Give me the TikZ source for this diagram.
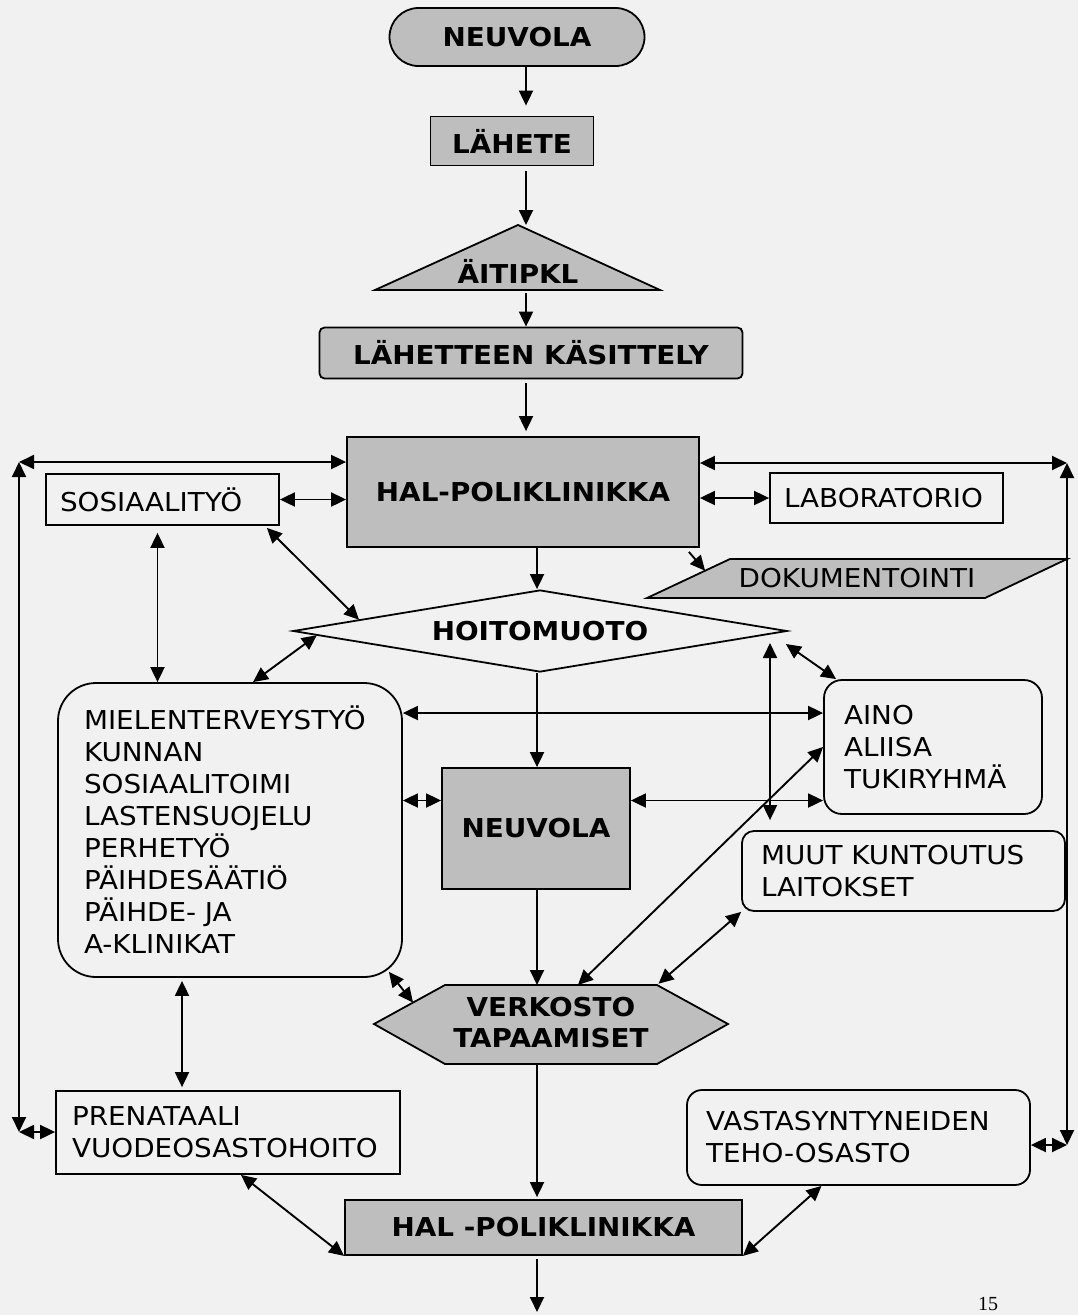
\documentclass[tikz,border=0pt]{standalone}
\usepackage{fontspec}
\setmainfont{DejaVu Sans}[FakeStretch=1.07]
\newfontfamily\pagefont{Liberation Serif}
\usetikzlibrary{shapes.geometric, arrows.meta, calc}
\definecolor{boxgrey}{RGB}{190,190,190}
\definecolor{paper}{RGB}{241,241,241}
\newcommand{\boxboldfont}{\fontsize{26}{31}\selectfont\bfseries}
\newcommand{\boxplainfont}{\fontsize{26}{32}\selectfont}
\tikzstyle{greybox} = [rectangle, draw=black, fill=boxgrey,
                       text centered, font=\boxboldfont,
                       line width=1.8pt]
\tikzstyle{whitebox} = [rectangle, draw=black, align=left,
                        font=\boxplainfont, line width=1.8pt]
\tikzstyle{arrow} = [line width=1.9pt,->,>={Triangle[length=15pt,width=14pt]}]
\tikzstyle{dblarrow} = [line width=1.9pt,<->,>={Triangle[length=15pt,width=14pt]}]

\begin{document}
\begin{tikzpicture}[x=1pt, y=-1pt]
        
        \fill [paper] (0,0) rectangle (1078,1315);
        \useasboundingbox (0,0) rectangle (1078,1315);
        
        \coordinate (AxisTop) at (526,0);
        \coordinate (AxisMid) at (537,0);
        \coordinate (MuutAxis) at (770,0);
        \coordinate (LeftTop) at (19,462);
        \coordinate (LeftBot) at (19,1132);
        \coordinate (RightTop) at (1067,463);
        \coordinate (RightBot) at (1067,1145);
        \coordinate (OutEnd) at (537,1312);
        
        
        \node (Neuvola1) [greybox, rounded corners=29pt, minimum width=255pt, minimum height=58pt, xshift=517pt, yshift=-37pt] {NEUVOLA};
        
        \node (Lahete) [greybox, minimum width=163pt, minimum height=49pt, xshift=512pt, yshift=-141pt] {LÄHETE};
        
        \coordinate (AitipklTop) at (518,225);
        \coordinate (AitipklL) at (375,290);
        \coordinate (AitipklR) at (660,290);
        \draw [line width=1.8pt, fill=boxgrey] (AitipklL) -- (AitipklTop) -- (AitipklR) -- cycle;
        \node (Aitipkl) [font=\boxboldfont, xshift=518pt, yshift=-271pt] {ÄITIPKL};
        
        \node (Kasittely) [greybox, rounded corners=5pt, minimum width=423pt, minimum height=51pt, xshift=531pt, yshift=-353pt] {LÄHETTEEN KÄSITTELY};
        
        \node (HalPoli1) [greybox, minimum width=352pt, minimum height=110pt, xshift=523pt, yshift=-492pt] {HAL-POLIKLINIKKA};
        
        \node (Sosiaali) [whitebox, text width=205pt, inner xsep=14pt, minimum height=51pt, xshift=162.5pt, yshift=-499.5pt] {SOSIAALITYÖ};
        
        \node (Laboratorio) [whitebox, text width=205pt, inner xsep=14pt, minimum height=50pt, xshift=886.5pt, yshift=-498pt] {LABORATORIO};
        
        \coordinate (DokTL) at (730,559);
        \coordinate (DokTR) at (1067,559);
        \coordinate (DokBR) at (985,598);
        \coordinate (DokBL) at (647,598);
        \draw [line width=1.8pt, fill=boxgrey] (DokTL) -- (DokTR) -- (DokBR) -- (DokBL) -- cycle;
        \node (Dokumentointi) [font=\boxplainfont, xshift=857pt, yshift=-578pt] {DOKUMENTOINTI};
        
        \node (Hoitomuoto) [diamond, draw=black, line width=1.8pt, shape aspect=6, inner sep=0pt, minimum width=494pt, minimum height=82pt, font=\boxboldfont, xshift=540pt, yshift=-631pt] {HOITOMUOTO};
        
        \node (Mielen) [whitebox, rounded corners=38pt, text width=292pt, inner xsep=26pt, minimum height=294pt, xshift=230pt, yshift=-830pt] {MIELENTERVEYSTYÖ\\KUNNAN\\SOSIAALITOIMI\\LASTENSUOJELU\\PERHETYÖ\\PÄIHDESÄÄTIÖ\\PÄIHDE- JA\\A-KLINIKAT};
        
        \node (Neuvola2) [greybox, minimum width=188pt, minimum height=121pt, xshift=536pt, yshift=-828.5pt] {NEUVOLA};
        
        \node (Aino) [whitebox, rounded corners=18pt, text width=178pt, inner xsep=20pt, minimum height=134pt, xshift=933pt, yshift=-747pt] {AINO\\ALIISA\\TUKIRYHMÄ};
        
        \node (Muut) [whitebox, rounded corners=12pt, text width=285pt, inner xsep=19pt, minimum height=80pt, xshift=903.5pt, yshift=-871pt] {MUUT KUNTOUTUS\\LAITOKSET};
        
        \coordinate (VerkL) at (374,1024);
        \coordinate (VerkTL) at (445,985);
        \coordinate (VerkTR) at (657,985);
        \coordinate (VerkR) at (728,1024);
        \coordinate (VerkBR) at (657,1064);
        \coordinate (VerkBL) at (445,1064);
        \draw [line width=1.8pt, fill=boxgrey] (VerkL) -- (VerkTL) -- (VerkTR) -- (VerkR) -- (VerkBR) -- (VerkBL) -- cycle;
        \node (Verkosto) [font=\boxboldfont, align=center, xshift=551pt, yshift=-1023pt] {VERKOSTO\\TAPAAMISET};
        
        \node (Prenataali) [whitebox, text width=312pt, inner xsep=16pt, minimum height=83pt, xshift=228pt, yshift=-1132.5pt] {PRENATAALI\\VUODEOSASTOHOITO};
        
        \node (Vastasynt) [whitebox, rounded corners=15pt, text width=305pt, inner xsep=19pt, minimum height=95pt, xshift=858.5pt, yshift=-1137.5pt] {VASTASYNTYNEIDEN\\TEHO-OSASTO};
        
        \node (HalPoli2) [greybox, minimum width=397pt, minimum height=55pt, xshift=543.5pt, yshift=-1227.5pt] {HAL -POLIKLINIKKA};
        
        \node (PageNum) [font=\pagefont\fontsize{20}{22}\selectfont, xshift=988pt, yshift=-1304pt] {15};
        
        
        \draw [arrow, shorten >=10pt] (Neuvola1.south -| AxisTop) -- (Lahete.north -| AxisTop); %neuvola
        \draw [arrow, shorten <=5pt] (Lahete.south -| AxisTop) -- (AitipklTop -| AxisTop); %lahete
        \draw [arrow, shorten <=3pt] (AitipklL -| AxisTop) -- (Kasittely.north -| AxisTop); %aitipkl
        \draw [arrow, shorten <=4pt, shorten >=5pt] (Kasittely.south -| AxisTop) -- (HalPoli1.north -| AxisTop); %kasittely
        \draw [arrow] (HalPoli1.south -| AxisMid) -- (Hoitomuoto.north -| AxisMid); %hal-poliklinikka
        \draw [arrow] (Hoitomuoto.south -| AxisMid) -- (Neuvola2.north -| AxisMid); %hoitomuoto
        \draw [arrow] (Neuvola2.south -| AxisMid) -- (VerkTL -| AxisMid); %neuvola
        \draw [arrow, shorten >=2pt] (VerkBL -| AxisMid) -- (HalPoli2.north -| AxisMid); %verkosto
        \draw [arrow, shorten <=3pt] (HalPoli2.south -| AxisMid) -- (OutEnd); %hal -poliklinikka
        
        \draw [dblarrow] (LeftTop -| HalPoli1.west) -- (LeftTop); %left loop
        \draw [dblarrow] (LeftTop) -- (LeftBot);
        \draw [dblarrow] (LeftBot) -- (LeftBot -| Prenataali.west);
        
        \draw [dblarrow] (RightTop -| HalPoli1.east) -- (RightTop); %right loop
        \draw [dblarrow] (RightTop) -- (RightBot);
        \draw [dblarrow] (RightBot -| Vastasynt.east) -- (RightBot);
        
        \draw [dblarrow] (Sosiaali.east) -- (Sosiaali.east -| HalPoli1.west); %sosiaalityo
        \draw [dblarrow] (Laboratorio.west) -- (Laboratorio.west -| HalPoli1.east); %laboratorio
        \draw [arrow] ([xshift=-11pt,yshift=-4pt]HalPoli1.south east) -- ($(DokBL)!0.7!(DokTL)$); %dokumentointi
        \draw [dblarrow, shorten <=7pt] ([xshift=-5pt]Sosiaali.south) -- ([xshift=-5pt]Sosiaali.south |- Mielen.north);
        \draw [dblarrow] ([xshift=-13pt,yshift=-2pt]Sosiaali.south east) -- ($(Hoitomuoto.west)!0.27!(Hoitomuoto.north)$);
        \draw [dblarrow] ($(Hoitomuoto.west)!0.1!(Hoitomuoto.south)$) -- ([xshift=23pt]Mielen.north);
        
        \draw [dblarrow] ([yshift=34pt]Aino.west) -- ([yshift=34pt]Aino.west -| Mielen.east); %mielenterveys
        \draw [dblarrow] ([yshift=28pt]Neuvola2.west) -- ([yshift=28pt]Neuvola2.west -| Mielen.east);
        \draw [dblarrow] ([yshift=28pt]Neuvola2.east) -- ([yshift=28pt]Neuvola2.east -| Aino.west);
        \draw [dblarrow, shorten <=12pt, shorten >=10pt] (Hoitomuoto.east -| MuutAxis) -- (Muut.north -| MuutAxis); %muut
        \draw [dblarrow] ([xshift=-2pt,yshift=-13pt]Hoitomuoto.east) -- ([xshift=13pt]Aino.north west); %aino
        \draw [dblarrow] (Aino.west) -- ($(VerkTL)!0.627!(VerkTR)$);
        \draw [dblarrow, shorten >=2pt] (Muut.south west) -- (VerkTR);
        \draw [dblarrow] ([xshift=-14pt,yshift=6pt]Mielen.south east) -- ($(VerkL)!0.55!(VerkTL)$); %verkosto
        \draw [dblarrow, shorten <=3pt, shorten >=3pt] ([xshift=-48pt]Mielen.south) -- ([xshift=-48pt]Mielen.south |- Prenataali.north);
        \draw [dblarrow] ([xshift=13pt]Prenataali.south) -- (HalPoli2.south west); %prenataali
        \draw [dblarrow] ([xshift=-37pt]Vastasynt.south) -- (HalPoli2.south east); %vastasyntyneet
        
\end{tikzpicture}
\end{document}
